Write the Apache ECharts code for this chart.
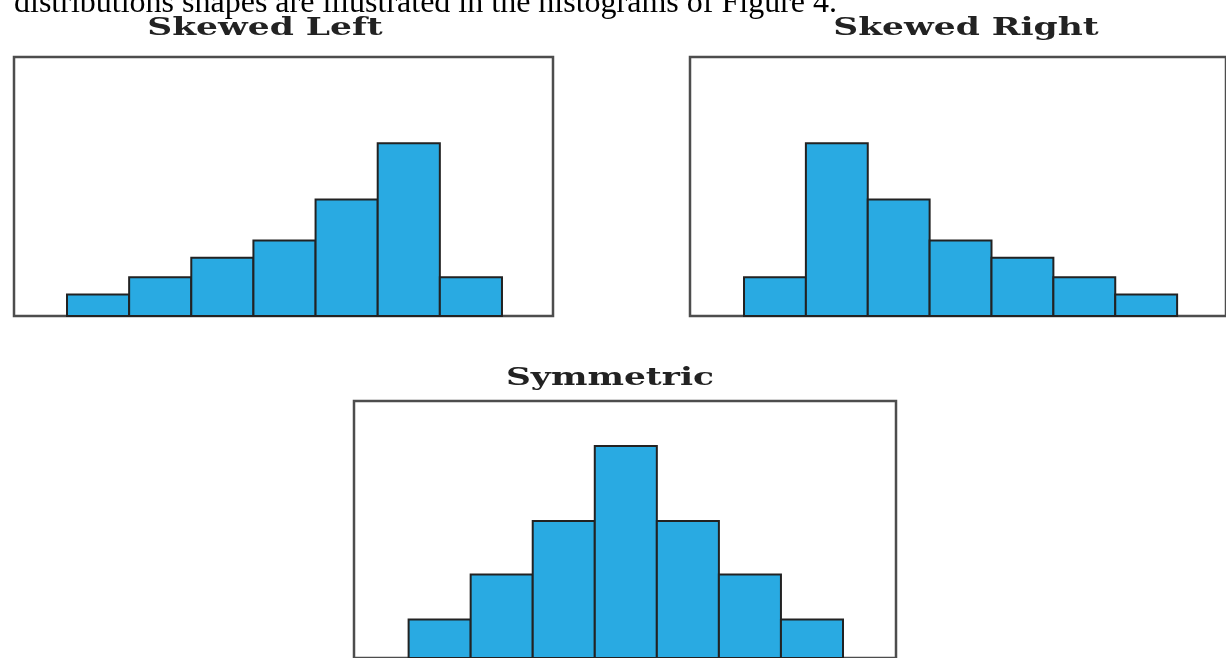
<!DOCTYPE html>
<html>
<head>
<meta charset="utf-8">
<style>
  html, body { margin: 0; padding: 0; background: #ffffff; }
  #chart { width: 1226px; height: 658px; }
</style>
<script src="https://cdn.jsdelivr.net/npm/echarts@6/dist/echarts.min.js"></script>
</head>
<body>
<div id="chart"></div>
<script>
// ---- data ----
var caption = 'distributions shapes are illustrated in the histograms of Figure 4.';
var panelTitles = ['Skewed Left', 'Skewed Right', 'Symmetric'];
var bins = [1, 2, 3, 4, 5, 6, 7];
var skewedLeft = [1.0, 1.8, 2.7, 3.5, 5.4, 8.0, 1.8];
var skewedRight = [1.8, 8.0, 5.4, 3.5, 2.7, 1.8, 1.0];
var symmetric = [1.8, 3.9, 6.4, 9.9, 6.4, 3.9, 1.8];

// ---- layout / style ----
var panels = [
  { values: skewedLeft,  grid: { left: 14,  top: 57,  width: 539, height: 259 }, xMin: -0.353, xMax: 8.321, titleX: 265, titleY: 37 },
  { values: skewedRight, grid: { left: 690, top: 57,  width: 536, height: 259 }, xMin: -0.373, xMax: 8.29,  titleX: 966, titleY: 37 },
  { values: symmetric,   grid: { left: 354, top: 401, width: 542, height: 259 }, xMin: -0.38,  xMax: 8.354, titleX: 610, titleY: 387 }
];
var barFill = '#29aae2';
var barStroke = '#222222';

var grids = [], xAxes = [], yAxes = [], series = [], graphics = [];
panels.forEach(function (p, i) {
  grids.push(Object.assign({ show: true, borderColor: '#4d4d4d', borderWidth: 2.5, backgroundColor: 'transparent', containLabel: false }, p.grid));
  xAxes.push({ type: 'value', gridIndex: i, min: p.xMin, max: p.xMax, show: false });
  yAxes.push({ type: 'value', gridIndex: i, min: 0, max: 12, show: false });
  series.push({
    type: 'custom',
    xAxisIndex: i,
    yAxisIndex: i,
    data: bins.map(function (b, k) { return [b, p.values[k]]; }),
    renderItem: function (params, api) {
      var x = api.value(0), y = api.value(1);
      var tl = api.coord([x - 0.5, y]);
      var br = api.coord([x + 0.5, 0]);
      return {
        type: 'rect',
        shape: { x: tl[0], y: tl[1], width: br[0] - tl[0], height: br[1] - tl[1] },
        style: { fill: barFill, stroke: barStroke, lineWidth: 2 }
      };
    },
    silent: true,
    animation: false
  });
  graphics.push({
    type: 'text',
    x: p.titleX,
    y: p.titleY - 8.65,
    scaleX: 1.38,
    style: {
      text: panelTitles[i],
      font: 'bold 25px "DejaVu Serif"',
      fill: '#222222',
      align: 'center',
      verticalAlign: 'middle'
    }
  });
});

graphics.push({
  type: 'text',
  x: 14,
  y: 3.2,
  style: {
    text: caption,
    font: '32px "Liberation Serif"',
    fill: '#000000',
    align: 'left',
    verticalAlign: 'middle'
  }
});

var chart = echarts.init(document.getElementById('chart'), null, { renderer: 'canvas' });
chart.setOption({
  animation: false,
  backgroundColor: '#ffffff',
  grid: grids,
  xAxis: xAxes,
  yAxis: yAxes,
  series: series,
  graphic: graphics
});
</script>
</body>
</html>
